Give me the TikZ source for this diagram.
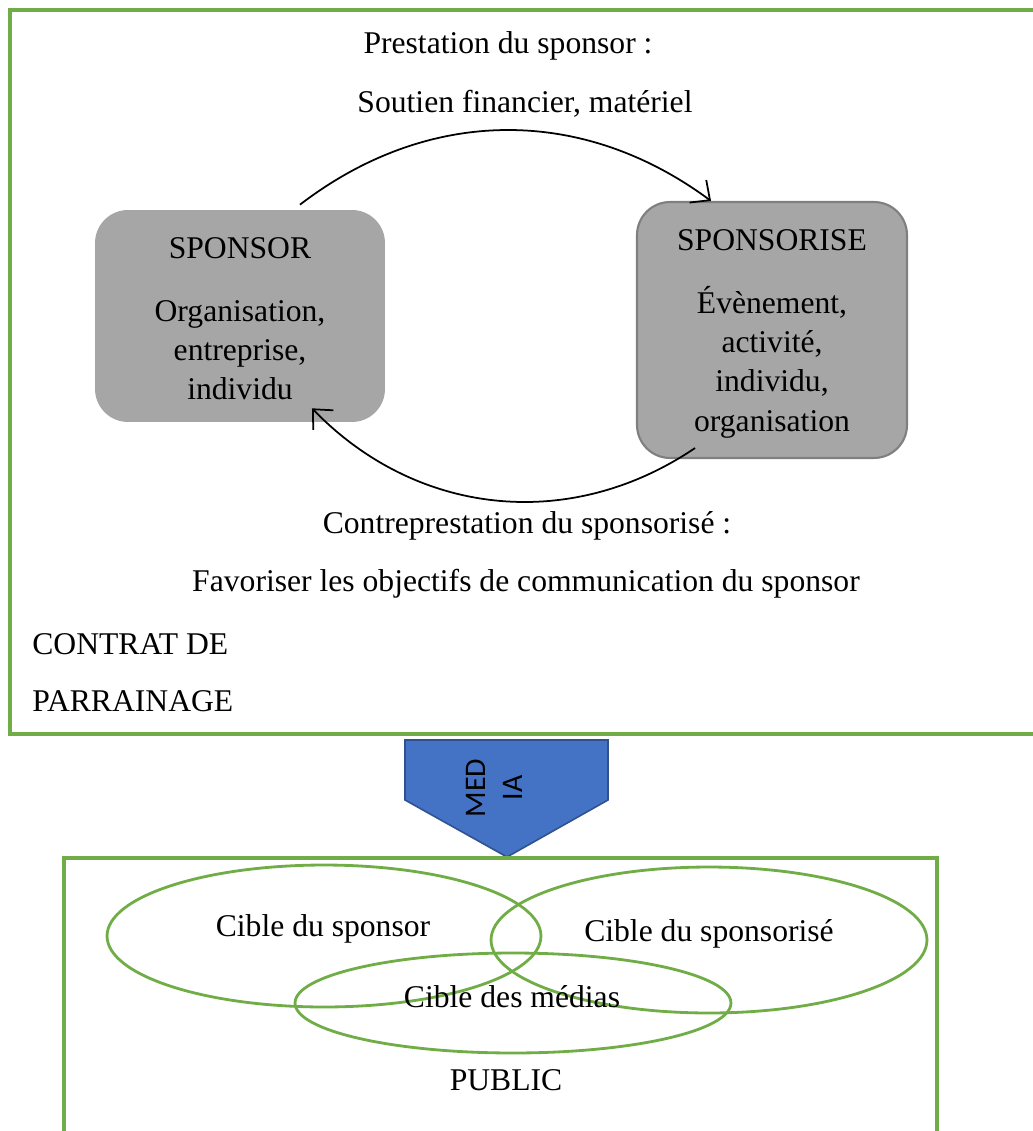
\documentclass[tikz,border=0pt]{standalone}
\usepackage{fontspec}
\setmainfont{Liberation Serif}
\newfontfamily\mediafont{Carlito}
\usepackage{xcolor}
\usetikzlibrary{arrows.meta,positioning,calc}

\definecolor{cadre}{HTML}{70AD47}
\definecolor{boite}{HTML}{A6A6A6}
\definecolor{boitebord}{HTML}{7F7F7F}
\definecolor{mediableu}{HTML}{4472C4}
\definecolor{mediabord}{HTML}{2F528F}

\tikzset{
    txt/.style={font=\fontsize{18}{22.4}\selectfont, inner sep=0pt},
    partie/.style={txt, rounded corners=0.66cm, fill=boite, align=center},
    echange/.style={-{Straight Barb[length=3mm,width=5.6mm]}, line width=1pt},
    cible/.style={draw=cadre, line width=1.6pt},
}

\begin{document}
\begin{tikzpicture}[x=0.02cm, y=-0.02cm]
    \useasboundingbox (0,0) rectangle (1033,1131);
    \clip (0,0) rectangle (1033,1131);

    % Contract frame
    \draw[cadre, line width=2pt] (10,10) rectangle (1060,734);

    % The two parties
    \node[partie, minimum width=5.8cm, minimum height=4.24cm] (sponsor) at (240,316) {};
    \node[txt, align=center] (sponsortxt) at (240,319)
        {SPONSOR\\[13pt]Organisation,\\entreprise,\\individu};
    \node[partie, draw=boitebord, line width=1.2pt, minimum width=5.4cm, minimum height=5.12cm] (sponsorise) at (772,330) {};
    \node[txt, align=center] (sponsorisetxt) at (772,334)
        {SPONSORISE\\[13pt]Évènement,\\activité,\\individu,\\organisation};

    % Exchanges
    \draw[echange] ([xshift=1.2cm,yshift=0.1cm]sponsor.north) to[bend left=37] ([xshift=-1.22cm]sponsorise.north);
    \draw[echange] ([xshift=-1.54cm,yshift=0.22cm]sponsorise.south) to[bend left=40] ([xshift=1.44cm,yshift=0.28cm]sponsor.south);

    % Labels
    \node[txt] (prestation) at (508,46) {Prestation du sponsor :};
    \node[txt] (soutien) at (525,104) {Soutien financier, matériel};
    \node[txt] (contre) at (527,526) {Contreprestation du sponsorisé :};
    \node[txt] (objectifs) at (526,584) {Favoriser les objectifs de communication du sponsor};
    \node[txt, anchor=west] (contrat) at (32,644) {CONTRAT DE};
    \node[txt, anchor=west] (parrainage) at (32,701) {PARRAINAGE};

    % Media arrow
    \draw[fill=mediableu, draw=mediabord, line width=0.9pt] (405,740) -- (608,740) -- (608,800) -- (507,857) -- (405,800) -- cycle;
    \node[rotate=90, font=\mediafont\fontsize{17}{21}\selectfont, align=center, inner sep=0pt] (media) at (494,788) {MED\\IA};

    % Public frame
    \draw[cadre, line width=2pt] (64,1150) -- (64,858) -- (937,858) -- (937,1150);

    % Targets
    \draw[cible] (324,936) ellipse [x radius=4.34cm, y radius=1.42cm];
    \draw[cible] (709,940) ellipse [x radius=4.36cm, y radius=1.46cm];
    \draw[cible] (513,1003) ellipse [x radius=4.36cm, y radius=1.0cm];
    \node[txt] (cibleSponsor) at (323,929) {Cible du sponsor};
    \node[txt] (cibleSponsorise) at (709,934) {Cible du sponsorisé};
    \node[txt] (cibleMedias) at (512,997) {Cible des médias};
    \node[txt] (public) at (506,1080) {PUBLIC};
\end{tikzpicture}
\end{document}
